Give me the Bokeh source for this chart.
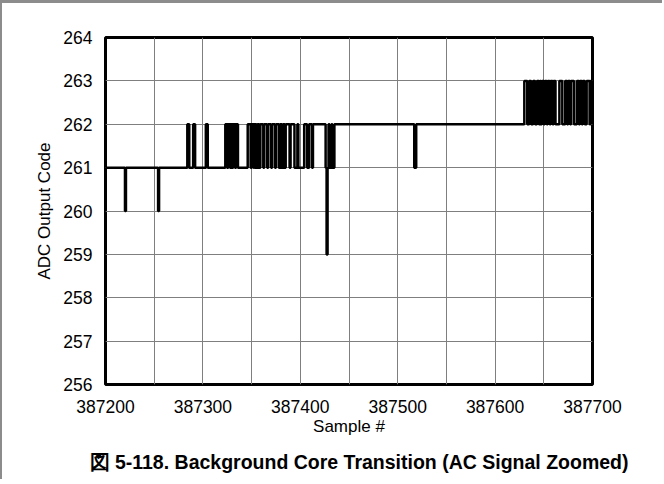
from bokeh.plotting import figure
from bokeh.models import FixedTicker, BasicTickFormatter, Title, Range1d
from bokeh.embed import file_html
from bokeh.resources import INLINE

# Step trace: sample index where the code changes, and the new code value
change_samples = [
    387200, 387220, 387221, 387254, 387255,
    387284, 387286, 387290, 387292, 387303, 387305,
    387323, 387325, 387326, 387328, 387329, 387330, 387331, 387333, 387334, 387336,
    387346, 387349, 387350, 387352, 387353, 387355, 387356, 387358, 387359, 387362,
    387363, 387366, 387367, 387370, 387371, 387374,
    387375, 387378, 387379, 387381, 387382, 387384, 387385, 387389, 387390, 387394,
    387397, 387398, 387404, 387407, 387409, 387412, 387413,
    387426, 387427, 387428, 387429, 387430, 387432, 387433, 387435,
    387517, 387519,
    387630, 387633, 387635, 387637, 387639, 387641, 387643, 387645, 387646, 387647,
    387648, 387650, 387651, 387653, 387654, 387656, 387657, 387659, 387660, 387662,
    387666, 387669, 387672, 387674, 387675, 387677, 387678, 387681, 387684, 387686,
    387687, 387689, 387690, 387692, 387694, 387697, 387698, 387700,
]
change_codes = [
    261, 260, 261, 260, 261,
    262, 261, 262, 261, 262, 261,
    262, 261, 262, 261, 262, 261, 262, 261, 262, 261,
    262, 261, 262, 261, 262, 261, 262, 261, 262, 261,
    262, 261, 262, 261, 262, 261,
    262, 261, 262, 261, 262, 261, 262, 261, 262, 261,
    262, 261, 262, 261, 262, 261, 262,
    261, 259, 261, 262, 261, 262, 261, 262,
    261, 262,
    263, 262, 263, 262, 263, 262, 263, 262, 263, 262,
    263, 262, 263, 262, 263, 262, 263, 262, 263, 262,
    263, 262, 263, 262, 263, 262, 263, 262, 263, 262,
    263, 262, 263, 262, 263, 262, 263, 263,
]

x_ticks = [387200, 387300, 387400, 387500, 387600, 387700]
x_grid = [387250, 387300, 387350, 387400, 387450, 387500, 387550, 387600, 387650]
y_ticks = [256, 257, 258, 259, 260, 261, 262, 263, 264]

FONT = "Liberation Sans"

p = figure(width=662, height=479, output_backend="svg", toolbar_location=None,
           x_range=Range1d(387200, 387700), y_range=Range1d(256, 264),
           min_border_left=103, min_border_right=72, min_border_top=34, min_border_bottom=60)
p.styles = {"border-top": "3px solid #8c8c8c", "border-left": "2px solid #8c8c8c"}
p.background_fill_color = "white"
p.border_fill_color = "white"
p.outline_line_color = "black"
p.outline_line_width = 3

p.step(change_samples, change_codes, mode="after", line_color="black", line_width=2.5)

p.xaxis.ticker = FixedTicker(ticks=x_ticks)
p.xaxis.formatter = BasicTickFormatter(use_scientific=False)
p.yaxis.ticker = FixedTicker(ticks=y_ticks)
p.xgrid.ticker = FixedTicker(ticks=x_grid)
p.ygrid.ticker = FixedTicker(ticks=y_ticks[1:-1])
for g in (p.xgrid, p.ygrid):
    g.grid_line_color = "#7f7f7f"
    g.grid_line_width = 1
    g.grid_line_alpha = 1.0

for ax in (p.xaxis, p.yaxis):
    ax.axis_line_color = None
    ax.major_tick_line_color = None
    ax.minor_tick_line_color = None
    ax.major_label_text_font = FONT
    ax.major_label_text_font_size = "17.5px"
    ax.major_label_text_color = "black"
    ax.axis_label_text_font = FONT
    ax.axis_label_text_font_size = "17px"
    ax.axis_label_text_font_style = "normal"
    ax.axis_label_text_color = "black"

p.xaxis.axis_label = "Sample #"
p.yaxis.axis_label = "ADC Output Code"
p.xaxis.major_label_standoff = 9
p.yaxis.major_label_standoff = 7
p.xaxis.axis_label_standoff = 1
p.yaxis.axis_label_standoff = 6

t = Title(text="図 5-118. Background Core Transition (AC Signal Zoomed)",
          align="left", offset=-16, text_font=FONT, text_font_size="19.5px",
          text_font_style="bold", text_color="black", standoff=20)
p.add_layout(t, "below")

open("out.html", "w").write(file_html(p, INLINE))
